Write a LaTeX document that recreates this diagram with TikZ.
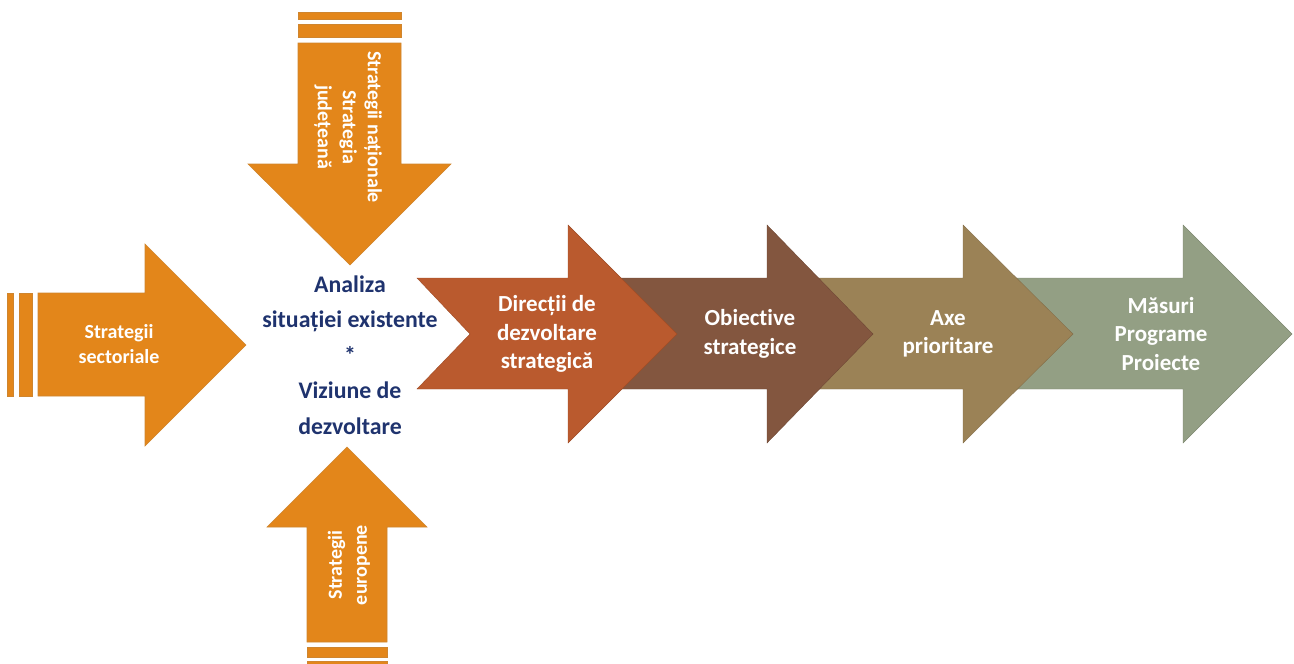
\documentclass[tikz,border=0pt]{standalone}
\usepackage{fontspec}
\setmainfont{Carlito}[Ligatures=NoCommon]
\definecolor{orng}{HTML}{E3861A}
\definecolor{chA}{HTML}{BA5A2E}
\definecolor{chB}{HTML}{83563F}
\definecolor{chC}{HTML}{9B8256}
\definecolor{chD}{HTML}{939F84}
\definecolor{navy}{HTML}{1F336E}
\begin{document}
\begin{tikzpicture}[x=1pt,y=-1pt,
  orangebox/.style={fill=orng,draw=orng!80!gray,line width=0.6pt},
  chev/.style={fill=#1,draw=#1!85!black,line width=0.4pt},
  wtxt/.style={text=white,font=\bfseries\fontsize{20}{25}\selectfont,align=center,inner sep=0pt},
  ctxt/.style={text=white,font=\bfseries\fontsize{23}{28.5}\selectfont,align=center,inner sep=0pt},
  ntxt/.style={text=navy,font=\bfseries\fontsize{23.8}{35.5}\selectfont,align=center,inner sep=0pt}]
\useasboundingbox (0,0) rectangle (1294,664);
% chevrons, right to left
\draw[chev=chD] (1010,278) -- (1183,278) -- (1183,225) -- (1292,334) -- (1183,443) -- (1183,389) -- (1010,389) -- cycle;
\draw[chev=chC] (800,278) -- (963,278) -- (963,225) -- (1073,334) -- (963,443) -- (963,389) -- (800,389) -- cycle;
\draw[chev=chB] (600,278) -- (767,278) -- (767,225) -- (873,334) -- (767,443) -- (767,389) -- (600,389) -- cycle;
\draw[chev=chA] (417,278) -- (568,278) -- (568,225) -- (677,334) -- (568,443) -- (568,389) -- (417,389) -- (470,334) -- cycle;
% left arrow
\draw[orangebox] (7,293) rectangle (13,396);
\draw[orangebox] (19,293) rectangle (32,396);
\draw[orangebox] (38,293) -- (145,293) -- (145,244) -- (246,345) -- (145,446) -- (145,396) -- (38,396) -- cycle;
% top arrow
\draw[orangebox] (298,12) rectangle (401,19);
\draw[orangebox] (298,24) rectangle (401,37);
\draw[orangebox] (298,43) -- (401,43) -- (401,164) -- (451,164) -- (350,265) -- (248,164) -- (298,164) -- cycle;
% bottom arrow
\draw[orangebox] (347,447) -- (427,527) -- (387,527) -- (387,642) -- (307,642) -- (307,527) -- (267,527) -- cycle;
\draw[orangebox] (307,647) rectangle (387,657);
\draw[orangebox] (307,661) rectangle (387,668);
% texts
\node[wtxt] (sect) at (119,344) {Strategii\\sectoriale};
\node[wtxt,rotate=-90] (nat) at (348,127) {Strategii naționale\\Strategia\\județeană};
\node[wtxt,rotate=90] (eur) at (349,565) {Strategii\\europene};
\node[ntxt] (center) at (350,355) {Analiza\\situației existente\\*\\Viziune de\\dezvoltare};
\node[ctxt] (dir) at (547,334) {Direcții de\\dezvoltare\\strategică};
\node[ctxt] (obj) at (750,334) {Obiective\\strategice};
\node[ctxt] (axe) at (948,334) {Axe\\prioritare};
\node[ctxt] (mas) at (1161,334) {Măsuri\\Programe\\Proiecte};
\end{tikzpicture}
\end{document}
